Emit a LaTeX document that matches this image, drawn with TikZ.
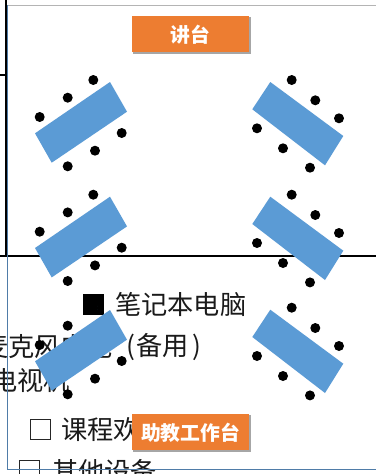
\documentclass[tikz,border=0pt]{standalone}
\usepackage{fontspec}
\setmainfont{Noto Sans CJK SC}
\newfontfamily\cjkbold[BoldFont={Noto Sans CJK SC Bold}]{Noto Sans CJK SC}
\definecolor{deskblue}{HTML}{5B9BD5}
\definecolor{labelorange}{HTML}{ED7D31}
\definecolor{framegray}{HTML}{B4B4B4}
\definecolor{frameblue}{HTML}{4F7CA8}
\definecolor{inktext}{HTML}{1A1A1A}
\tikzset{
  seatdot/.style={fill=black,draw=none},
  deskrect/.style={fill=deskblue,draw=none},
  tableline/.style={draw=black,line width=1.1pt},
  slabel/.style={fill=labelorange,text=white,font=\fontsize{19.8}{22}\selectfont\bfseries,
    minimum width=117pt,minimum height=36pt,inner sep=0pt,anchor=center},
  slabelshadow/.style={fill=black!35,draw=none},
  bgtext/.style={font=\fontsize{26.2}{28}\selectfont,text=inktext,anchor=west,inner sep=0pt},
  checkbox/.style={draw=black!85,line width=0.9pt,fill=white,minimum size=20pt,inner sep=0pt}
}
\begin{document}
\begin{tikzpicture}[x=1pt,y=-1pt]
\useasboundingbox (0,0) rectangle (376,474);
\clip (0,0) rectangle (376,474);
\fill[white] (0,0) rectangle (376,474);
% underlying table rules
\draw[tableline] (6,0) -- (6,256);
\draw[tableline] (0,75) -- (6,75);
\draw[tableline] (0,256) -- (376,256);
% underlying text
\node[bgtext] (t1) at (115,305) {笔记本电脑};
\node[draw=none,fill=black,minimum size=21pt,inner sep=0pt] (sq) at (93.5,304.5) {};
\draw[deskblue,line width=0.5pt] (94,308) circle (3.6);
\node[bgtext] (t2) at (-18,347) {麦克风电池};
\node[bgtext] (t2b) at (126,347) {(\kern1.5pt 备用\kern4pt)};
\node[bgtext] (t3) at (-9,381) {电视机};
\node[checkbox] (c1) at (40,429.5) {};
\node[bgtext] (t4) at (61,430) {课程欢};
\node[checkbox] (c2) at (29.5,470) {};
\node[bgtext] (t5) at (52,472) {其他设备};
% frame of the pasted plan
\draw[framegray,line width=0.9pt] (7,5) -- (376,5);
\draw[frameblue,line width=1pt] (7.5,5) -- (7.5,469.5) -- (376,469.5);
% left desks
\foreach \dy in {0,114.7,228}{
  \begin{scope}[shift={(0,\dy)}]
    \fill[deskrect] (110,82) -- (127,111.7) -- (51.7,162.7) -- (35,133.3) -- cycle;
    \foreach \px/\py in {39.7/117,67.7/97.7,93.3/80,121.7/133,95/150.7,67.7/166.3}
      \fill[seatdot] (\px,\py) circle (5);
  \end{scope}
}
% right desks
\foreach \dy in {0,114.7,227.7}{
  \begin{scope}[shift={(0,\dy)}]
    \fill[deskrect] (270.3,82) -- (343.3,136) -- (325,165.3) -- (252.3,109.3) -- cycle;
    \foreach \px/\py in {291.7/80,315.3/100.3,339/118.3,257/128.3,283/148.3,310/167.7}
      \fill[seatdot] (\px,\py) circle (5);
  \end{scope}
}
% labels
\fill[slabelshadow] (133,17) rectangle (251,53.5);
\node[slabel] (lectern) at (190.5,34.3) {讲台};
\fill[slabelshadow] (133,415) rectangle (251,451.5);
\node[slabel] (tastation) at (190.5,432.3) {助教工作台};
\end{tikzpicture}
\end{document}
